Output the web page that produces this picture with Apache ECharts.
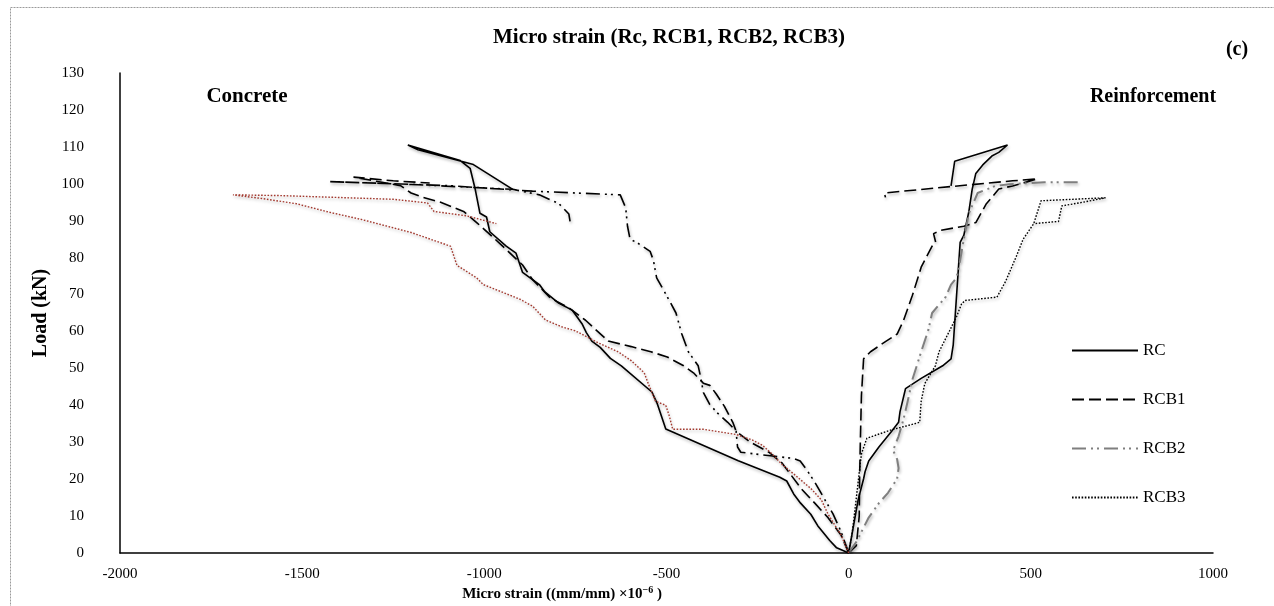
<!DOCTYPE html>
<html><head><meta charset="utf-8">
<script src="https://cdn.jsdelivr.net/npm/echarts@6/dist/echarts.min.js"></script>
<style>html,body{margin:0;padding:0;background:#fff}#c{width:1274px;height:606px}</style>
</head><body><div id="c"></div>
<script>
// Micro strain (x) vs Load kN (y)
const xTicks = [-2000, -1500, -1000, -500, 0, 500, 1000];
const yTicks = [0,10,20,30,40,50,60,70,80,90,100,110,120,130];
const seriesNames = ['RC', 'RCB1', 'RCB2', 'RCB3'];

// Concrete side (negative strain)
const rcConcrete = [[0,0],[-33,1.4],[-52,3.4],[-85,7.4],[-104,10.5],[-132,13.5],[-151,16],[-170,19.5],[-189,20.5],[-303,25],[-502,33.6],[-526,40.6],[-540,43.6],[-624,50.7],[-654,52.7],[-682,55.7],[-705,57.4],[-720,59.7],[-732,62.1],[-758,65.7],[-796,67.7],[-834,70.7],[-849,72.7],[-895,76],[-913,81.2],[-940,83.1],[-985,87],[-994,91],[-1012,92],[-1025,98.5],[-1039,104.2],[-1066,106.3],[-1210,110.5],[-1182,109.2],[-1030,105.2],[-922,98.5]];
const rcb1Concrete = [[0,0],[-21,4.9],[-57,9.6],[-93,13.5],[-129,17.3],[-165,22],[-183,24.4],[-219,27.3],[-273,30.2],[-309,33],[-318,35.4],[-341,39.7],[-363,43],[-381,45.4],[-399,46],[-426,48.8],[-453,50.7],[-498,53.1],[-543,54.5],[-597,55.9],[-660,57.4],[-723,63.1],[-768,66.4],[-818,69],[-868,74.1],[-895,78],[-940,82.2],[-976,85.5],[-1021,89.5],[-1057,92.5],[-1120,95],[-1174,96.5],[-1201,97.5],[-1230,99.5],[-1359,101.8],[-1250,100.8],[-1150,100.2]];
const rcb2Concrete = [[0,0],[-21,5.8],[-43,10.6],[-93,19.2],[-115,22.5],[-133,24.9],[-151,25.6],[-255,26.8],[-296,27.3],[-305,28.7],[-309,33],[-332,35.4],[-359,37.8],[-381,40.2],[-399,43.5],[-405,47],[-413,50.7],[-440,54.5],[-458,59.3],[-474,65],[-500,69.8],[-527,74.5],[-536,79.3],[-545,81.7],[-580,84],[-600,85],[-607,88.5],[-612,93.5],[-627,97],[-868,98],[-1100,99.5],[-1427,100.6],[-1200,99.8],[-922,98.5],[-849,97],[-795,94.6],[-768,91.8],[-764,89.4]];
const rcb3Concrete = [[0,0],[-21,4.9],[-39,7.7],[-57,10.6],[-75,14.4],[-102,17.3],[-147,21.1],[-183,24],[-210,26.8],[-237,29.2],[-264,30.6],[-309,32.1],[-399,33.5],[-483,33.5],[-492,37],[-502,40],[-530,41.1],[-549,45.6],[-561,48.8],[-597,52.1],[-633,54.5],[-687,56.9],[-714,58.3],[-751,60.2],[-786,61.2],[-832,63.1],[-868,66.9],[-904,68.8],[-1003,72.7],[-1021,74.5],[-1075,77.9],[-1093,83.1],[-1201,86.8],[-1336,90.3],[-1426,92.3],[-1516,94.6],[-1610,96],[-1690,97],[-1560,96.8],[-1250,95.8],[-1156,94.8],[-1138,92.5],[-1048,91.3],[-967,89.2]];

// Reinforcement side (positive strain)
const rcReinf = [[0,0],[26,14.4],[41,20.1],[45,22],[55,24.9],[83,28.7],[118,33],[137,35.4],[141,38.3],[156,44.5],[199,47.3],[258,50.7],[281,52.6],[287,56.4],[306,84.1],[316,86],[330,92.5],[339,98.5],[349,102.8],[368,105.1],[393,107.5],[412,108.5],[436,110.5],[291,106.1],[281,99.4]];
const rcb1Reinf = [[0,0],[21,2],[29,10],[30,20],[32,30],[35,42.6],[41,52.6],[60,54.5],[103,57.4],[133,59.3],[151,63.1],[175,69.8],[199,77.4],[229,83.1],[239,84.1],[233,86.5],[253,87.4],[316,88.5],[349,89.5],[378,94.6],[393,96.3],[412,98.6],[450,99.4],[518,101.3],[450,100.8],[287,99.3],[98,97.5],[101,96.3]];
const rcb2Reinf = [[0,0],[21,3],[55,9.6],[83,13.5],[108,16.3],[133,20.1],[137,23],[133,25.4],[122,27.8],[137,31.6],[151,36.4],[162,41.1],[175,47],[199,54.5],[219,60.5],[229,65],[266,69.3],[281,72.7],[296,74.5],[306,79.3],[316,85],[330,92],[354,97.5],[402,99.4],[441,99.9],[537,100.4],[633,100.4]];
const rcb3Reinf = [[0,0],[9,5],[16,10.6],[26,19.2],[35,26.8],[50,31.1],[122,33.5],[162,34.5],[195,35.4],[199,41.1],[209,45.9],[238,50.7],[248,54.5],[277,60.2],[296,64],[310,67.5],[320,68.4],[407,69.3],[431,73.6],[460,80.3],[479,85],[508,89.2],[528,95.4],[705,96.2],[643,95],[585,94],[576,89.8],[508,89.2]];

const FONT = 'Liberation Serif';
const shadow = {shadowBlur: 3, shadowColor: 'rgba(0,0,0,0.28)', shadowOffsetX: 1, shadowOffsetY: 2};
function mk(name, data, color, type, width) {
  return {
    name: name, type: 'line', data: data, symbol: 'none', showSymbol: false,
    silent: true, animation: false,
    lineStyle: Object.assign({color: color, width: width, type: type, cap: 'butt'}, shadow),
    itemStyle: {color: color}
  };
}
const dash = [12, 5];
const dashDot = [14, 5, 2, 4, 2, 5];
const dot = [1.6, 1.6];

const chart = echarts.init(document.getElementById('c'), null, {renderer: 'canvas'});
chart.setOption({
  animation: false,
  backgroundColor: '#fff',
  grid: {left: 120, right: 61, top: 73, bottom: 53, containLabel: false},
  legend: {
    orient: 'vertical', left: 1066, top: 337, itemWidth: 66, itemHeight: 16, itemGap: 32,
    textStyle: {fontFamily: FONT, fontSize: 17, color: '#000'},
    itemStyle: {opacity: 0},
    lineStyle: {shadowBlur: 0, shadowColor: 'rgba(0,0,0,0)', shadowOffsetX: 0, shadowOffsetY: 0},
    data: seriesNames
  },
  xAxis: {
    type: 'value', min: xTicks[0], max: xTicks[xTicks.length - 1], interval: 500,
    axisLine: {onZero: false, lineStyle: {color: '#000', width: 1.5}},
    axisTick: {show: false}, splitLine: {show: false},
    axisLabel: {fontFamily: FONT, fontSize: 15, color: '#000', margin: 14, formatter: function (v) { return String(v); }}
  },
  yAxis: {
    type: 'value', min: yTicks[0], max: yTicks[yTicks.length - 1], interval: 10,
    name: 'Load (kN)', nameLocation: 'middle', nameGap: 57,
    nameTextStyle: {fontFamily: FONT, fontSize: 20, fontWeight: 'bold', color: '#000'},
    axisLine: {show: true, onZero: false, lineStyle: {color: '#000', width: 1.5}},
    axisTick: {show: false}, splitLine: {show: false},
    axisLabel: {fontFamily: FONT, fontSize: 15, color: '#000', margin: 36, align: 'right', formatter: function (v) { return String(v); }}
  },
  graphic: [
    {type: 'rect', silent: true, z: -1, shape: {x: 10.5, y: 7.5, width: 1300, height: 650},
      style: {fill: 'none', stroke: '#9a9a9a', lineWidth: 1, lineDash: [2, 1]}},
    {type: 'text', x: 669, y: 38, style: {text: 'Micro strain (Rc, RCB1, RCB2, RCB3)', align: 'center', verticalAlign: 'middle', font: 'bold 21px "Liberation Serif"', fill: '#000'}},
    {type: 'text', x: 247, y: 97, style: {text: 'Concrete', align: 'center', verticalAlign: 'middle', font: 'bold 21px "Liberation Serif"', fill: '#000'}},
    {type: 'text', x: 1153, y: 97, style: {text: 'Reinforcement', align: 'center', verticalAlign: 'middle', font: 'bold 20px "Liberation Serif"', fill: '#000'}},
    {type: 'text', x: 1237, y: 50, style: {text: '(c)', align: 'center', verticalAlign: 'middle', font: 'bold 20px "Liberation Serif"', fill: '#000'}},
    {type: 'text', x: 562, y: 594, style: {
      text: 'Micro strain ((mm/mm) ×10{s|−6} )', align: 'center', verticalAlign: 'middle',
      font: 'bold 15px "Liberation Serif"', fill: '#000',
      rich: {s: {font: 'bold 10px "Liberation Serif"', fill: '#000', padding: [0, 0, 8, 0]}}
    }}
  ],
  series: [
    mk('RC', rcConcrete, '#000', 'solid', 1.6),
    mk('RC', rcReinf, '#000', 'solid', 1.6),
    mk('RCB1', rcb1Concrete, '#000', dash, 1.6),
    mk('RCB1', rcb1Reinf, '#000', dash, 1.6),
    mk('RCB2', rcb2Reinf, '#7f7f7f', dashDot, 2),
    mk('RCB2', rcb2Concrete, '#000', dashDot, 1.6),
    mk('RCB3', rcb3Reinf, '#000', dot, 1.4),
    mk('RCB3', rcb3Concrete, '#a33a30', dot, 1.4)
  ]
});
</script></body></html>
